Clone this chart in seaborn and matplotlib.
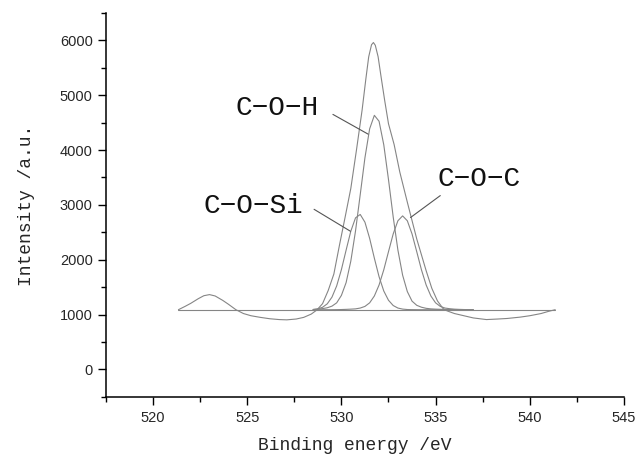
import numpy as np
import pandas as pd
import matplotlib as mpl
mpl.use("Agg")
import matplotlib.pyplot as plt
from matplotlib.ticker import MultipleLocator
import seaborn as sns

# raw O1s spectrum
env_x = [521.35, 521.7, 522.0, 522.4, 522.7, 523.0, 523.3, 523.7, 524.0, 524.4,
         524.8, 525.2, 525.7, 526.2, 526.7, 527.1, 527.6, 528.0, 528.4, 528.7,
         529.0, 529.3, 529.6, 529.9, 530.2, 530.5, 530.8, 531.1, 531.3, 531.45,
         531.6, 531.7, 531.8, 531.95, 532.1, 532.3, 532.5, 532.8, 533.1, 533.5,
         534.0, 534.5, 534.8, 535.1, 535.4, 535.6, 536.0, 536.5, 537.0, 537.7,
         538.3, 538.8, 539.5, 540.0, 540.6, 541.0, 541.35]
env_y = [1090, 1150, 1205, 1290, 1345, 1365, 1340, 1260, 1190, 1090,
         1020, 980, 950, 925, 910, 905, 920, 950, 1010, 1085,
         1200, 1440, 1740, 2270, 2780, 3300, 4000, 4730, 5300, 5700,
         5920, 5960, 5910, 5700, 5350, 4900, 4480, 4100, 3600, 3050,
         2380, 1800, 1480, 1250, 1110, 1070, 1020, 980, 940, 910,
         920, 930, 955, 980, 1020, 1060, 1090]

# fitted components
comp_x = [528.5, 528.75, 529.0, 529.25, 529.5, 529.75, 530.0, 530.25, 530.5, 530.75,
          531.0, 531.25, 531.5, 531.75, 532.0, 532.25, 532.5, 532.75, 533.0, 533.25,
          533.5, 533.75, 534.0, 534.25, 534.5, 534.75, 535.0, 535.25, 535.5, 535.75,
          536.0, 536.25, 536.5, 536.75, 537.0]
cosi_y = [1095, 1106, 1134, 1197, 1319, 1524, 1819, 2175, 2521, 2764,
          2826, 2685, 2390, 2029, 1691, 1431, 1262, 1166, 1120, 1101,
          1093, 1091, 1090, 1090, 1090, 1090, 1090, 1090, 1090, 1090,
          1090, 1090, 1090, 1090, 1090]
coh_y = [1092, 1100, 1110, 1125, 1155, 1215, 1350, 1583, 1975, 2525,
         3188, 3859, 4387, 4633, 4525, 4096, 3463, 2781, 2177, 1720,
         1420, 1246, 1170, 1135, 1115, 1105, 1100, 1097, 1095, 1093,
         1092, 1091, 1091, 1090, 1090]
coc_y = [1090, 1090, 1090, 1090, 1090, 1091, 1093, 1096, 1100, 1105,
         1120, 1150, 1215, 1340, 1540, 1817, 2147, 2471, 2711, 2800,
         2711, 2471, 2147, 1817, 1540, 1340, 1215, 1150, 1120, 1108,
         1100, 1096, 1093, 1091, 1090]

base_x = [521.35, 541.35]
base_y = [1090, 1090]

# labels: text, text position, leader line start / end
labels = ["C\u2212O\u2212H", "C\u2212O\u2212Si", "C\u2212O\u2212C"]
label_xy = [(526.6, 4760), (525.35, 2980), (537.3, 3470)]
leader_start = [(529.55, 4650), (528.55, 2920), (535.25, 3170)]
leader_end = [(531.42, 4290), (530.48, 2520), (533.67, 2770)]

sns.set_style("ticks")
plt.rcParams["font.family"] = ["Liberation Sans", "DejaVu Sans"]

fig = plt.figure(figsize=(6.38, 4.61), dpi=100)
ax = fig.add_axes([0.166, 0.139, 0.812, 0.833])

line_kw = dict(color="#858585", linewidth=0.8, estimator=None, legend=False, ax=ax)

sns.lineplot(data=pd.DataFrame({"x": base_x, "y": base_y}), x="x", y="y", **line_kw)
sns.lineplot(data=pd.DataFrame({"x": env_x, "y": env_y}), x="x", y="y", **line_kw)
for comp in [cosi_y, coh_y, coc_y]:
    sns.lineplot(data=pd.DataFrame({"x": comp_x, "y": comp}), x="x", y="y", **line_kw)

mono = ["Liberation Mono", "DejaVu Sans Mono"]
for txt, (tx, ty), (sx, sy), (ex, ey) in zip(labels, label_xy, leader_start, leader_end):
    ax.text(tx, ty, txt, fontsize=20, family=mono, ha="center", va="center", color="#111111")
    ax.plot([sx, ex], [sy, ey], color="#555555", linewidth=0.8)

ax.set_xlim(517.5, 545)
ax.set_ylim(-500, 6500)
ax.set_xticks([520, 525, 530, 535, 540, 545])
ax.set_yticks([0, 1000, 2000, 3000, 4000, 5000, 6000])
ax.xaxis.set_minor_locator(MultipleLocator(2.5))
ax.yaxis.set_minor_locator(MultipleLocator(500))
ax.tick_params(which="major", length=6, width=1, labelsize=10.5, color="black")
ax.tick_params(which="minor", length=3.5, width=1, color="black")
ax.tick_params(axis="x", pad=4)

ax.set_xlabel("Binding energy /eV", family=mono, fontsize=13, labelpad=9)
ax.xaxis.label.set_x(0.481)
ax.set_ylabel("Intensity /a.u.", family=mono, fontsize=13, labelpad=18)

sns.despine(ax=ax)
for side in ["left", "bottom"]:
    ax.spines[side].set_color("black")
    ax.spines[side].set_linewidth(1.1)

fig.savefig("out.png", dpi=100)
